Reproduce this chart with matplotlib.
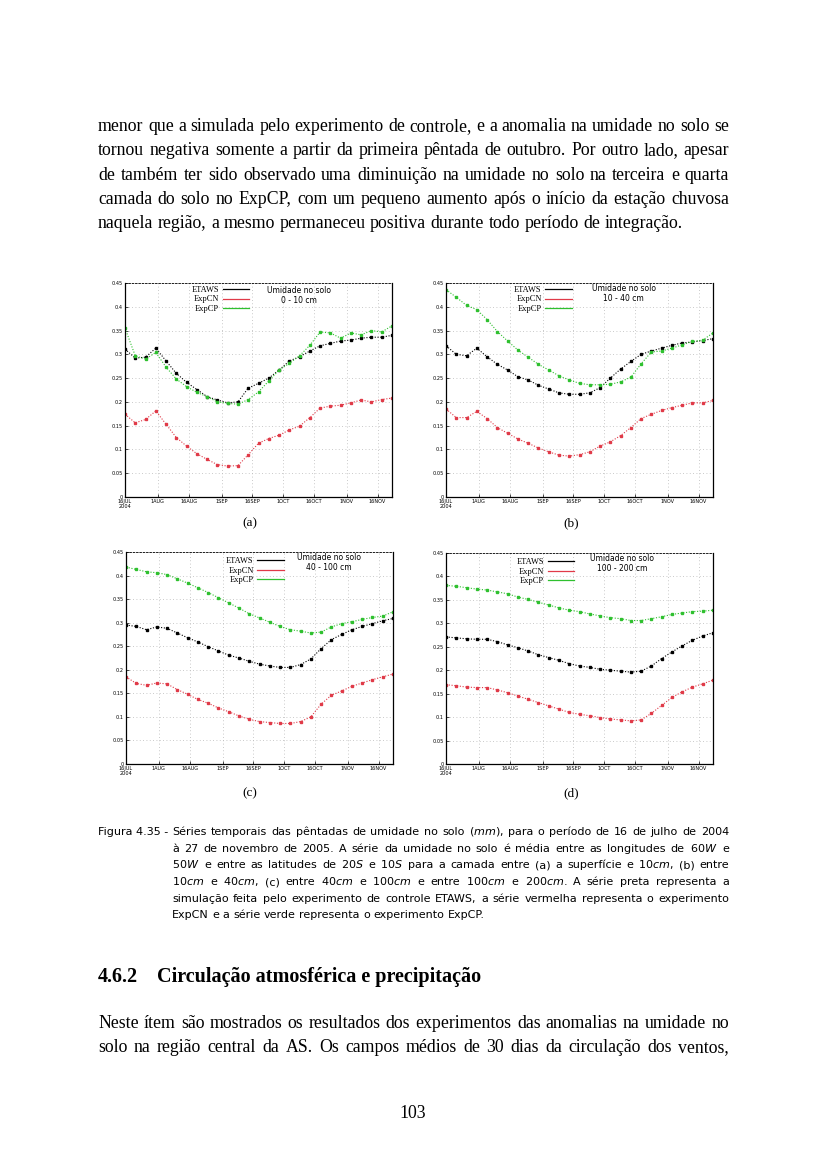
import numpy as np
import matplotlib
matplotlib.use('Agg')
import matplotlib.pyplot as plt
from matplotlib.lines import Line2D

W, H = 827, 1169

# pentads from 16 JUL to 23 NOV
pentads = np.arange(27)
tick_days = [0, 16, 31, 47, 62, 77, 92, 108, 123]
tick_labels = ['16JUL\n2004', '1AUG', '16AUG', '1SEP', '16SEP', '1OCT', '16OCT', '1NOV', '16NOV']
yticks = [0, 0.05, 0.1, 0.15, 0.2, 0.25, 0.3, 0.35, 0.4, 0.45]
ytick_labels = ['0', '0.05', '0.1', '0.15', '0.2', '0.25', '0.3', '0.35', '0.4', '0.45']

series_names = ['ETAWS', 'ExpCN', 'ExpCP']

# (a) 0 - 10 cm
a_etaws = [0.311, 0.292, 0.294, 0.313, 0.286, 0.260, 0.241, 0.226, 0.211, 0.204, 0.198, 0.200, 0.229, 0.239,
           0.250, 0.267, 0.286, 0.295, 0.307, 0.318, 0.323, 0.328, 0.330, 0.334, 0.336, 0.336, 0.340]
a_expcn = [0.174, 0.156, 0.163, 0.181, 0.153, 0.125, 0.107, 0.091, 0.079, 0.068, 0.065, 0.066, 0.089, 0.113,
           0.123, 0.130, 0.141, 0.149, 0.167, 0.187, 0.191, 0.193, 0.198, 0.204, 0.200, 0.205, 0.208]
a_expcp = [0.355, 0.297, 0.290, 0.304, 0.273, 0.248, 0.232, 0.220, 0.211, 0.200, 0.197, 0.195, 0.205, 0.221,
           0.244, 0.267, 0.281, 0.297, 0.319, 0.347, 0.345, 0.334, 0.345, 0.341, 0.350, 0.347, 0.360]

# (b) 10 - 40 cm
b_etaws = [0.318, 0.300, 0.297, 0.313, 0.295, 0.279, 0.267, 0.253, 0.246, 0.235, 0.227, 0.219, 0.216, 0.216,
           0.219, 0.230, 0.250, 0.269, 0.285, 0.300, 0.307, 0.313, 0.319, 0.324, 0.326, 0.329, 0.333]
b_expcn = [0.185, 0.167, 0.167, 0.180, 0.165, 0.146, 0.134, 0.122, 0.113, 0.103, 0.095, 0.088, 0.086, 0.089,
           0.095, 0.107, 0.116, 0.129, 0.146, 0.165, 0.174, 0.182, 0.188, 0.193, 0.198, 0.198, 0.203]
b_expcp = [0.436, 0.420, 0.403, 0.394, 0.373, 0.348, 0.328, 0.309, 0.294, 0.279, 0.267, 0.255, 0.246, 0.239,
           0.236, 0.236, 0.237, 0.242, 0.252, 0.280, 0.305, 0.307, 0.313, 0.320, 0.327, 0.330, 0.345]

# (c) 40 - 100 cm
c_etaws = [0.295, 0.292, 0.285, 0.291, 0.288, 0.278, 0.268, 0.259, 0.249, 0.240, 0.231, 0.225, 0.218, 0.212,
           0.208, 0.205, 0.205, 0.211, 0.223, 0.245, 0.264, 0.275, 0.285, 0.292, 0.298, 0.304, 0.309]
c_expcn = [0.185, 0.171, 0.167, 0.172, 0.170, 0.158, 0.148, 0.137, 0.129, 0.119, 0.111, 0.102, 0.095, 0.090,
           0.088, 0.086, 0.086, 0.090, 0.100, 0.127, 0.146, 0.155, 0.165, 0.172, 0.179, 0.185, 0.191]
c_expcp = [0.418, 0.413, 0.408, 0.406, 0.402, 0.393, 0.384, 0.374, 0.364, 0.353, 0.342, 0.331, 0.319, 0.310,
           0.301, 0.292, 0.285, 0.282, 0.278, 0.280, 0.291, 0.298, 0.302, 0.307, 0.311, 0.314, 0.323]

# (d) 100 - 200 cm
d_etaws = [0.271, 0.269, 0.267, 0.266, 0.266, 0.261, 0.254, 0.248, 0.241, 0.233, 0.227, 0.221, 0.214, 0.209,
           0.206, 0.202, 0.200, 0.198, 0.196, 0.198, 0.209, 0.225, 0.239, 0.252, 0.264, 0.273, 0.280]
d_expcn = [0.169, 0.167, 0.164, 0.163, 0.163, 0.158, 0.152, 0.145, 0.138, 0.131, 0.124, 0.117, 0.110, 0.106,
           0.103, 0.099, 0.096, 0.094, 0.092, 0.094, 0.108, 0.125, 0.142, 0.154, 0.164, 0.171, 0.179]
d_expcp = [0.381, 0.379, 0.376, 0.373, 0.371, 0.367, 0.363, 0.356, 0.351, 0.345, 0.339, 0.333, 0.328, 0.325,
           0.320, 0.316, 0.312, 0.310, 0.306, 0.306, 0.310, 0.314, 0.319, 0.322, 0.325, 0.326, 0.328]

colors = ['black', '#e03a48', '#2fc02f']

para1 = [
    "menor que a simulada pelo experimento de controle, e a anomalia na umidade no solo se",
    "tornou negativa somente a partir da primeira pêntada de outubro. Por outro lado, apesar",
    "de também ter sido observado uma diminuição na umidade no solo na terceira e quarta",
    "camada do solo no ExpCP, com um pequeno aumento após o início da estação chuvosa",
    "naquela região, a mesmo permaneceu positiva durante todo período de integração.",
]
caption = [
    "Séries temporais das pêntadas de umidade no solo ($mm$), para o período de 16 de julho de 2004",
    "à 27 de novembro de 2005. A série da umidade no solo é média entre as longitudes de 60$W$ e",
    "50$W$ e entre as latitudes de 20$S$ e 10$S$ para a camada entre (a) a superfície e 10$cm$, (b) entre",
    "10$cm$ e 40$cm$, (c) entre 40$cm$ e 100$cm$ e entre 100$cm$ e 200$cm$. A série preta representa a",
    "simulação feita pelo experimento de controle ETAWS, a série vermelha representa o experimento",
    "ExpCN e a série verde representa o experimento ExpCP.",
]
para2 = [
    "Neste ítem são mostrados os resultados dos experimentos das anomalias na umidade no",
    "solo na região central da AS. Os campos médios de 30 dias da circulação dos ventos,",
]


fig = plt.figure(figsize=(W / 100, H / 100), dpi=100)
renderer = fig.canvas.get_renderer()


def justify(line, y, x0, x1, last=False, **kw):
    words = line.split(' ')
    texts = [fig.text(0, 0, w, va='baseline', **kw) for w in words]
    widths = [t.get_window_extent(renderer).width for t in texts]
    if last or len(words) == 1:
        t1 = fig.text(0, 0, 'a a', **kw)
        t2 = fig.text(0, 0, 'aa', **kw)
        gap = t1.get_window_extent(renderer).width - t2.get_window_extent(renderer).width
        t1.remove()
        t2.remove()
    else:
        gap = (x1 - x0 - sum(widths)) / (len(words) - 1)
    x = x0
    for t, w in zip(texts, widths):
        t.set_position((x / W, 1 - y / H))
        x += w + gap


def panel(rect, data, title, leg_xy, title_xy, letter, letter_xy):
    ax = fig.add_axes(rect)
    for vals, c in zip(data, colors):
        ax.plot(pentads, vals, color=c, lw=0.8, ls=(0, (1, 1.5)),
                marker='s', ms=2.0, mec=c, mfc=c)
    ax.set_xlim(0, 26)
    ax.set_ylim(0, 0.45)
    ax.set_xticks(np.array(tick_days) / 5)
    ax.set_xticklabels(tick_labels, fontsize=3.6, linespacing=0.9)
    ax.set_yticks(yticks)
    ax.set_yticklabels(ytick_labels, fontsize=3.6)
    ax.tick_params(direction='in', length=2, width=0.5, pad=1.5, top=False, right=False)
    ax.grid(True, color='#b8b8b8', lw=0.6, ls=(0, (1, 3)))
    for s in ['left', 'bottom', 'right']:
        ax.spines[s].set_linewidth(0.9)
    ax.spines['top'].set_linewidth(0.6)
    ax.spines['top'].set_linestyle((0, (2, 2)))
    handles = [Line2D([], [], color=c, lw=0.9) for c in colors]
    ax.legend(handles, series_names, loc='upper left', bbox_to_anchor=leg_xy, frameon=False,
              markerfirst=False, handlelength=3.2, handletextpad=0.4,
              labelspacing=0.15, borderpad=0, borderaxespad=0,
              prop={'family': 'Liberation Serif', 'size': 6})
    ax.text(title_xy[0], title_xy[1], title, transform=ax.transAxes, ha='center', va='top',
            fontsize=5.5, linespacing=1.1)
    fig.text(letter_xy[0] / W, 1 - letter_xy[1] / H, letter, ha='center', va='center',
             fontsize=9.5, family='Liberation Serif')
    return ax


panel([125 / W, 1 - 497 / H, 267 / W, 214 / H], [a_etaws, a_expcn, a_expcp],
      'Umidade no solo\n0 - 10 cm', (0.25, 0.985), (0.65, 0.985), '(a)', (250, 523))
panel([446 / W, 1 - 497 / H, 267 / W, 214 / H], [b_etaws, b_expcn, b_expcp],
      'Umidade no solo\n10 - 40 cm', (0.255, 0.985), (0.665, 0.995), '(b)', (571, 523))
panel([126 / W, 1 - 764 / H, 267 / W, 212 / H], [c_etaws, c_expcn, c_expcp],
      'Umidade no solo\n40 - 100 cm', (0.375, 0.975), (0.76, 0.995), '(c)', (250, 793))
panel([446 / W, 1 - 764 / H, 267 / W, 211 / H], [d_etaws, d_expcn, d_expcp],
      'Umidade no solo\n100 - 200 cm', (0.265, 0.975), (0.66, 0.995), '(d)', (571, 793))

body = dict(family='Liberation Serif', fontsize=12.8)
for i, line in enumerate(para1):
    justify(line, 131 + i * 24.3, 98, 729, last=(i == len(para1) - 1), **body)

cap = dict(family='DejaVu Sans', fontsize=8)
fig.text(98 / W, 1 - 835 / H, 'Figura 4.35 -', va='baseline', **cap)
for i, line in enumerate(caption):
    justify(line, 835 + i * 16.7, 172, 729, last=(i == len(caption) - 1), **cap)

head = dict(family='Liberation Serif', fontsize=14.5, weight='bold')
fig.text(98 / W, 1 - 982 / H, '4.6.2', va='baseline', **head)
fig.text(157 / W, 1 - 982 / H, 'Circulação atmosférica e precipitação', va='baseline', **head)

for i, line in enumerate(para2):
    justify(line, 1028 + i * 24.3, 98, 729, **body)

fig.text(413 / W, 1 - 1118 / H, '103', ha='center', va='baseline', **body)

fig.savefig('out.png', dpi=100)
